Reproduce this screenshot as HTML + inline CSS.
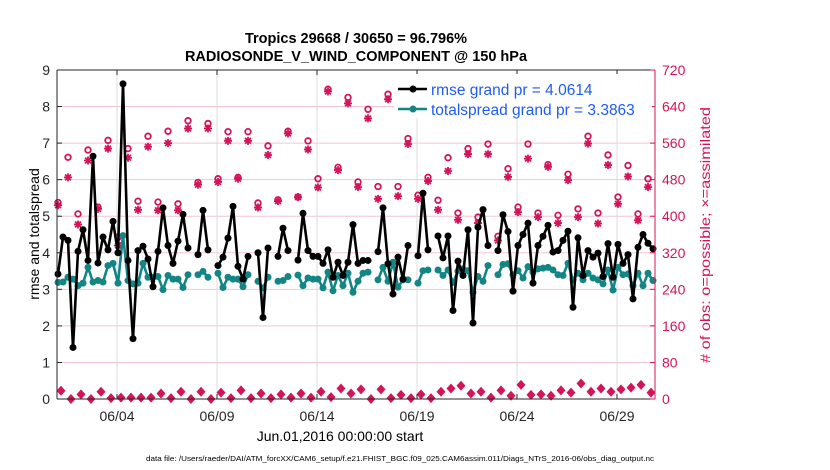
<!DOCTYPE html>
<html><head><meta charset="utf-8"><style>
html,body{margin:0;padding:0;background:#fff;}
svg{display:block;font-family:"Liberation Sans",Arial,sans-serif;}
</style></head><body>
<svg id="chart" width="830" height="470" viewBox="0 0 830 470" xmlns="http://www.w3.org/2000/svg">
<text x="356" y="43" text-anchor="middle" font-size="14.5" font-weight="bold">Tropics 29668 / 30650 = 96.796%</text>
<text x="356" y="61" text-anchor="middle" font-size="14.5" font-weight="bold">RADIOSONDE_V_WIND_COMPONENT @ 150 hPa</text>
<g id="grid"></g>
<g id="marks"></g>
<g id="axes"></g>
<g id="legend">
<rect x="394" y="74" width="258" height="44" fill="#fff"/>
<line x1="398" y1="89" x2="427" y2="89" stroke="#000" stroke-width="2.5"/>
<circle cx="413" cy="89" r="3.5" fill="#000"/>
<text x="431" y="95" font-size="15.5" fill="#1f5cf5">rmse grand pr = 4.0614</text>
<line x1="398" y1="109" x2="427" y2="109" stroke="#138585" stroke-width="2.5"/>
<circle cx="413" cy="109" r="3.5" fill="#138585"/>
<text x="431" y="115" font-size="15.5" fill="#1f5cf5">totalspread grand pr = 3.3863</text>
</g>
<text x="340" y="441" text-anchor="middle" font-size="14">Jun.01,2016 00:00:00 start</text>
<text transform="translate(39,234) rotate(-90)" text-anchor="middle" font-size="14">rmse and totalspread</text>
<text transform="translate(710,235) rotate(-90)" text-anchor="middle" font-size="14" fill="#d4145a" textLength="256" lengthAdjust="spacingAndGlyphs"># of obs: o=possible; ×=assimilated</text>
<text x="146" y="461" font-size="7.5" textLength="508" lengthAdjust="spacingAndGlyphs">data file: /Users/raeder/DAI/ATM_forcXX/CAM6_setup/f.e21.FHIST_BGC.f09_025.CAM6assim.011/Diags_NTrS_2016-06/obs_diag_output.nc</text>
</svg>
<script>
const dayTicks = [3, 8, 13, 18, 23, 28];
const dayTickLabels = ["06/04", "06/09", "06/14", "06/19", "06/24", "06/29"];
const leftTicks = [0,1,2,3,4,5,6,7,8,9];
const rightTicks = [0,80,160,240,320,400,480,560,640,720];
const rmse = [3.42,4.43,4.34,1.41,4.04,4.63,3.79,6.64,3.72,4.43,4.08,4.86,4.0,8.62,3.79,1.65,4.06,4.18,3.83,3.07,4.04,5.23,4.2,3.71,4.32,5.05,4.13,null,3.95,5.16,4.08,
null,3.65,3.88,4.4,5.27,3.63,3.28,3.9,null,4.0,2.23,4.13,null,3.9,4.67,4.06,null,3.8,5.08,4.06,3.9,3.9,3.71,4.08,3.33,3.74,3.38,3.74,4.77,3.71,
3.79,3.79,null,4.03,5.23,3.7,2.87,3.88,3.28,4.2,null,3.92,5.63,4.08,null,4.46,3.86,4.46,2.42,3.77,3.38,4.63,2.08,4.7,5.18,4.2,null,4.06,5.04,4.58,
2.95,4.2,4.5,4.81,3.17,4.2,4.45,4.75,4.02,4.06,4.34,4.59,2.51,4.41,3.38,4.06,3.88,3.99,3.35,4.25,3.33,4.23,3.71,3.95,2.74,4.15,4.5,4.26,4.11];
const spread = [3.19,3.2,3.33,3.28,3.1,3.17,3.6,3.2,3.24,3.2,3.65,3.71,3.17,4.47,3.24,3.15,3.17,3.71,3.33,3.33,3.35,2.99,3.38,3.28,3.28,3.05,3.4,null,3.4,3.49,3.33,
null,3.44,3.05,3.33,3.28,3.28,3.07,3.4,null,3.22,3.04,3.33,null,3.22,3.24,3.35,null,3.39,3.1,3.31,3.28,3.28,3.04,3.47,2.96,3.38,3.1,3.44,2.92,3.22,
3.44,3.47,null,3.26,3.6,3.22,3.74,3.06,3.26,3.26,null,3.17,3.51,3.53,null,3.53,3.38,3.53,3.19,3.5,3.56,3.51,2.92,3.35,3.22,3.65,null,3.4,3.68,3.7,
3.4,3.51,3.31,3.62,3.47,3.56,3.58,3.6,3.53,3.4,3.38,3.71,3.26,3.44,3.26,3.44,3.31,3.26,3.15,3.53,2.98,3.6,3.4,3.42,3.1,3.44,3.1,3.44,3.24];
const possible = [430,529,405,545,420,566,354,548,433,575,431,586,427,609,474,603,
482,585,485,585,429,554,436,586,442,565,482,678,507,660,475,
634,465,667,465,570,446,485,435,528,407,548,398,558,356,504,
420,558,407,513,402,492,416,575,407,534,442,511,405,482];
const assimilated = [424,485,382,522,416,548,336,528,414,552,413,560,413,592,469,592,
475,565,482,565,419,534,433,581,442,546,463,673,501,647,464,
614,438,656,444,558,438,477,414,499,392,536,385,536,347,486,
409,526,398,508,385,479,398,559,384,512,427,487,391,464];
const rejected = [18,0,10,0,16,2,3,3,3,3,12,2,16,0,16,
0,14,2,19,2,12,2,10,3,12,3,16,4,23,12,
21,0,21,2,9,2,10,2,16,23,29,12,16,3,19,
7,31,9,10,7,19,14,34,16,23,16,21,25,31,14];

const NS="http://www.w3.org/2000/svg";
const X0=57, X1=655, Y0=399, Y1=70, DAYS=29.9;
const xDay = d => X0 + d/DAYS*(X1-X0);
const xIdx = i => xDay(0.05 + i*0.25);
const yL = v => Y0 - v/9*(Y0-Y1);
const yR = v => Y0 - v/720*(Y0-Y1);
const RED="#d4145a", TEAL="#138585";
function mk(tag, attrs, parent){const e=document.createElementNS(NS,tag);for(const k in attrs)e.setAttribute(k,attrs[k]);parent.appendChild(e);return e;}
const grid=document.getElementById('grid'), marks=document.getElementById('marks'), axes=document.getElementById('axes');
mk('rect',{x:X0,y:Y1,width:X1-X0,height:Y0-Y1,fill:'#fff'},grid);
leftTicks.forEach(v=>{ if(v>0&&v<9){const l=mk('line',{x1:X0,x2:X1,y1:yL(v),y2:yL(v),stroke:'#f2c6d6','stroke-width':1},grid);

}});
dayTicks.forEach(d=>{const l=mk('line',{x1:xDay(d),x2:xDay(d),y1:Y1,y2:Y0,stroke:'#dcdcdc','stroke-width':1},grid);

});

rejected.forEach((v,k)=>{const x=xIdx(2*k+0.6), y=yR(v);
const d=mk('polygon',{points:`${x},${y-5} ${x+4.5},${y} ${x},${y+5} ${x-4.5},${y}`,fill:RED},marks);

});
possible.forEach((v,k)=>{const c=mk('circle',{cx:xIdx(2*k),cy:yR(v),r:2.8,fill:'none',stroke:RED,'stroke-width':1.8},marks);

});
assimilated.forEach((v,k)=>{const x=xIdx(2*k), y=yR(v), r=4;
const g=mk('path',{d:`M${x-r},${y}H${x+r}M${x},${y-r}V${y+r}M${x-2.9},${y-2.9}L${x+2.9},${y+2.9}M${x-2.9},${y+2.9}L${x+2.9},${y-2.9}`,stroke:RED,'stroke-width':1.8,fill:'none'},marks);

});

function series(arr,color,name){
  let d='', pen=false;
  arr.forEach((v,i)=>{ if(v==null){pen=false;return;} d+=(pen?'L':'M')+xIdx(i).toFixed(1)+','+yL(v).toFixed(1); pen=true; });
  const p=mk('path',{d:d,stroke:color,'stroke-width':2.6,fill:'none','stroke-linejoin':'round'},marks);
  
  
  arr.forEach((v,i)=>{ if(v==null)return; const c=mk('circle',{cx:xIdx(i),cy:yL(v),r:3.5,fill:color},marks);
  
  });
}
series(spread,TEAL,'totalspread');
series(rmse,'#000','rmse');

mk('line',{x1:X0,y1:Y1,x2:X1,y2:Y1,stroke:'#262626','stroke-width':1},axes);
mk('line',{x1:X0,y1:Y0,x2:X1,y2:Y0,stroke:'#262626','stroke-width':1},axes);
mk('line',{x1:X0,y1:Y1,x2:X0,y2:Y0,stroke:'#262626','stroke-width':1},axes);
mk('line',{x1:X1,y1:Y1,x2:X1,y2:Y0,stroke:RED,'stroke-width':1},axes);
leftTicks.forEach(v=>{mk('line',{x1:X0,x2:X0+5,y1:yL(v),y2:yL(v),stroke:'#262626'},axes);
const t=mk('text',{x:X0-7,y:yL(v)+5,'text-anchor':'end','font-size':14,fill:'#262626'},axes);t.textContent=v;

});
rightTicks.forEach(v=>{mk('line',{x1:X1-5,x2:X1,y1:yR(v),y2:yR(v),stroke:RED},axes);
const t=mk('text',{x:X1+7,y:yR(v)+5,'font-size':14,fill:RED},axes);t.textContent=v;

});
dayTicks.forEach((d,k)=>{const x=xDay(d);mk('line',{x1:x,x2:x,y1:Y0,y2:Y0-5,stroke:'#262626'},axes);mk('line',{x1:x,x2:x,y1:Y1,y2:Y1+5,stroke:'#262626'},axes);
const t=mk('text',{x:x,y:Y0+22,'text-anchor':'middle','font-size':14,fill:'#262626'},axes);t.textContent=dayTickLabels[k];

});
</script>
</body></html>
